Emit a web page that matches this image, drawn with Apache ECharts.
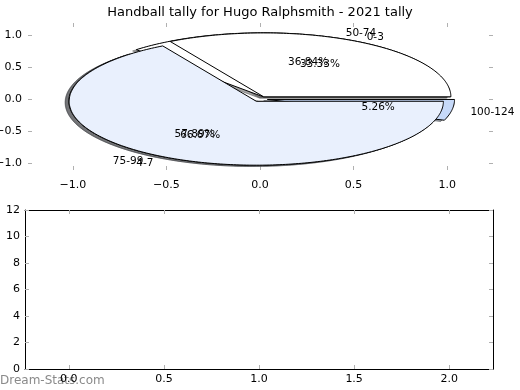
<!DOCTYPE html>
<html><head><meta charset="utf-8">
<script src="https://cdn.jsdelivr.net/npm/echarts@6/dist/echarts.min.js"></script>
<style>html,body{margin:0;padding:0;background:#fff}#c{width:520px;height:390px}</style>
</head><body><div id="c"></div><script>
const titleText = 'Handball tally for Hugo Ralphsmith - 2021 tally';
const catsA = ['50-74', '75-99', '100-124'];
const valsA = [7, 11, 1];
const catsB = ['0-3', '4-7'];
const valsB = [1, 2];
const colorsA = ['#ffffff', '#e9f0fd', '#c6d9f9'];
const colorsB = ['#ffffff', '#e9f0fd'];
const pieTicks = [-1, -0.5, 0, 0.5, 1];
const lowerXTicks = [0, 0.5, 1, 1.5, 2];
const explodeDist = 0.04;
const FONT = 'DejaVu Sans';

function buildWedges(cats, vals, colors, pie) {
  const total = vals.reduce((a, b) => a + b, 0);
  let start = 0;
  return vals.map((v, i) => {
    const frac = v / total;
    const t1 = start * 360, t2 = (start + frac) * 360;
    start += frac;
    const mid = (t1 + t2) / 2 * Math.PI / 180;
    return { pie, name: cats[i], pct: frac * 100, t1, t2, mid,
      cx: explodeDist * Math.cos(mid), cy: explodeDist * Math.sin(mid), color: colors[i] };
  });
}
const wedges = buildWedges(catsA, valsA, colorsA, 0).concat(buildWedges(catsB, valsB, colorsB, 1));

function wedgePoints(api, w, ox, oy) {
  const pts = [api.coord([w.cx + ox, w.cy + oy])];
  const n = Math.max(2, Math.ceil(w.t2 - w.t1));
  for (let k = 0; k <= n; k++) {
    const a = (w.t1 + (w.t2 - w.t1) * k / n) * Math.PI / 180;
    pts.push(api.coord([w.cx + ox + Math.cos(a), w.cy + oy + Math.sin(a)]));
  }
  return pts;
}
function shade(hex) {
  const r = parseInt(hex.slice(1, 3), 16), g = parseInt(hex.slice(3, 5), 16), b = parseInt(hex.slice(5, 7), 16);
  return 'rgba(' + Math.round(r * 0.3) + ',' + Math.round(g * 0.3) + ',' + Math.round(b * 0.3) + ',0.5)';
}
const fmt1 = v => v.toFixed(1).replace('-', '\u2212');
const tickStyle = { show: true, inside: true, length: 4, lineStyle: { color: '#b0b0b0', width: 1 } };
const lblStyle = { fontFamily: FONT, fontSize: 11, color: '#000' };
const noLine = { show: false, onZero: false };
const blackLine = { show: true, onZero: false, lineStyle: { color: '#000', width: 1 } };
const pieFont = '10.5px "DejaVu Sans"';

const chart = echarts.init(document.getElementById('c'), null, { renderer: 'canvas' });
const wedgeData = wedges.map(() => [0, 0]);

chart.setOption({
  animation: false,
  backgroundColor: '#fff',
  title: { text: titleText, left: 'center', top: 1, textStyle: { fontFamily: FONT, fontSize: 13, fontWeight: 'normal', color: '#000' } },
  graphic: [{ type: 'text', left: 0, top: 375, style: { text: 'Dream-Stats.com', fill: '#8a8a8a', font: '12px "DejaVu Sans"' } }],
  grid: [
    { left: 28, right: 27, top: 23, height: 147, outerBoundsMode: 'none', containLabel: false },
    { left: 25, right: 27, top: 210, height: 159, outerBoundsMode: 'none', containLabel: false }
  ],
  xAxis: [
    { gridIndex: 0, type: 'value', min: -1.24, max: 1.245, position: 'bottom', axisLine: noLine, splitLine: { show: false },
      axisTick: Object.assign({ customValues: pieTicks }, tickStyle),
      axisLabel: Object.assign({ customValues: pieTicks, formatter: fmt1, margin: 10 }, lblStyle) },
    { gridIndex: 0, type: 'value', min: -1.24, max: 1.245, position: 'top', axisLine: noLine, splitLine: { show: false },
      axisTick: Object.assign({ customValues: pieTicks }, tickStyle), axisLabel: { show: false } },
    { gridIndex: 1, type: 'value', min: -0.23, max: 2.23, position: 'bottom', axisLine: blackLine, splitLine: { show: false },
      axisTick: Object.assign({ customValues: lowerXTicks }, tickStyle),
      axisLabel: Object.assign({ customValues: lowerXTicks, formatter: fmt1, margin: 5 }, lblStyle) },
    { gridIndex: 1, type: 'value', min: -0.23, max: 2.23, position: 'top', axisLine: blackLine, splitLine: { show: false },
      axisTick: Object.assign({ customValues: lowerXTicks }, tickStyle), axisLabel: { show: false } }
  ],
  yAxis: [
    { gridIndex: 0, type: 'value', min: -1.11, max: 1.19, position: 'left', axisLine: noLine, splitLine: { show: false },
      axisTick: Object.assign({ customValues: pieTicks }, tickStyle),
      axisLabel: Object.assign({ customValues: pieTicks, formatter: fmt1, margin: 6 }, lblStyle) },
    { gridIndex: 0, type: 'value', min: -1.11, max: 1.19, position: 'right', axisLine: noLine, splitLine: { show: false },
      axisTick: Object.assign({ customValues: pieTicks }, tickStyle), axisLabel: { show: false } },
    { gridIndex: 1, type: 'value', min: 0, max: 12, interval: 2, position: 'left', axisLine: blackLine, splitLine: { show: false },
      axisTick: tickStyle, axisLabel: Object.assign({ margin: 5 }, lblStyle) },
    { gridIndex: 1, type: 'value', min: 0, max: 12, interval: 2, position: 'right', axisLine: blackLine, splitLine: { show: false },
      axisTick: tickStyle, axisLabel: { show: false } }
  ],
  series: [
    { type: 'custom', xAxisIndex: 0, yAxisIndex: 0, z: 1, data: wedgeData, silent: true,
      renderItem: (params, api) => {
        const w = wedges[params.dataIndex];
        const c = shade(w.color);
        return { type: 'polygon', shape: { points: wedgePoints(api, w, -0.02, -0.02) }, style: { fill: c, stroke: c, lineWidth: 1 } };
      } },
    { type: 'custom', xAxisIndex: 0, yAxisIndex: 0, z: 2, data: wedgeData, silent: true,
      renderItem: (params, api) => {
        const w = wedges[params.dataIndex];
        return { type: 'polygon', shape: { points: wedgePoints(api, w, 0, 0) }, style: { fill: w.color, stroke: '#000', lineWidth: 1, lineJoin: 'miter' } };
      } },
    { type: 'custom', xAxisIndex: 0, yAxisIndex: 0, z: 3, data: wedgeData, silent: true,
      renderItem: (params, api) => {
        const w = wedges[params.dataIndex];
        const xt = w.cx + 1.1 * Math.cos(w.mid), yt = w.cy + 1.1 * Math.sin(w.mid);
        const xp = w.cx + 0.6 * Math.cos(w.mid), yp = w.cy + 0.6 * Math.sin(w.mid);
        const pl = api.coord([xt, yt]), pp = api.coord([xp, yp]);
        return { type: 'group', children: [
          { type: 'text', x: pl[0], y: pl[1] + 1, style: { text: w.name, fill: '#000', font: pieFont, align: xt > 0 ? 'left' : 'right', verticalAlign: 'middle' } },
          { type: 'text', x: pp[0], y: pp[1] + 1, style: { text: w.pct.toFixed(2) + '%', fill: '#000', font: pieFont, align: 'center', verticalAlign: 'middle' } }
        ] };
      } },
    { type: 'line', xAxisIndex: 2, yAxisIndex: 2, data: [] }
  ]
});
</script></body></html>
